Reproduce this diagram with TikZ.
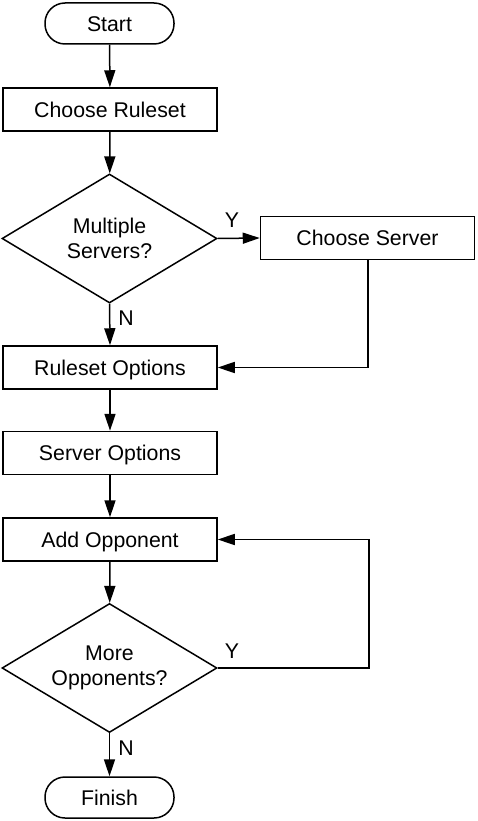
\documentclass[tikz,border=0pt]{standalone}
\usepackage{fontspec}
\setmainfont{Liberation Sans}
\usetikzlibrary{shapes.geometric,arrows.meta}
\begin{document}
\begin{tikzpicture}[x=1pt,y=-1pt,
  every node/.style={font=\fontsize{21.3}{25}\selectfont, line width=1.5pt},
  procbox/.style={draw, rectangle, minimum width=214pt, minimum height=43pt, inner sep=0pt, text height=15.3pt, text depth=0pt},
  termbox/.style={draw, rectangle, rounded corners=20pt, minimum width=129pt, minimum height=41pt, inner sep=0pt, text height=15.3pt, text depth=0pt},
  decbox/.style={draw, diamond, aspect=1.667, minimum width=215pt, minimum height=129pt, inner sep=0pt, align=center},
  flow/.style={line width=1.5pt, -{Triangle[length=17pt,width=11pt]}},
  lbl/.style={font=\fontsize{21.3}{25}\selectfont, inner sep=0pt}
]
\useasboundingbox (0,0) rectangle (477,821);
\node[termbox] (start) at (109.5,23.5) {Start};
\node[procbox] (rules) at (110,109.5) {Choose Ruleset};
\node[decbox] (multi) at (109.5,238.5) {Multiple\\Servers?};
\node[procbox] (server) at (367.5,238) {Choose Server};
\node[procbox] (ropts) at (110,367.5) {Ruleset Options};
\node[procbox] (sopts) at (110,453) {Server Options};
\node[procbox] (addop) at (110,539.5) {Add Opponent};
\node[decbox] (more) at (109.5,668) {More\\Opponents?};
\node[termbox] (finish) at (109.5,797.5) {Finish};

\coordinate (c1) at (368,367.5);
\coordinate (c2) at (369,668);
\coordinate (c3) at (369,539.5);

\draw[flow] (start) -- (rules);
\draw[flow] (rules) -- (multi);
\draw[flow] (multi.east) -- (server.west);
\draw[flow] (multi.south) -- (ropts.north);
\draw[flow] (server.south -| c1) -- (c1) -- (ropts.east);
\draw[flow] (ropts) -- (sopts);
\draw[flow] (sopts) -- (addop);
\draw[flow] (addop) -- (more);
\draw[flow] (more.east) -- (c2) -- (c3) -- (addop.east);
\draw[flow] (more.south) -- (finish.north);

\node[lbl] (y1) at (232,220) {Y};
\node[lbl] (n1) at (126,318) {N};
\node[lbl] (y2) at (232,651) {Y};
\node[lbl] (n2) at (126,748) {N};
\end{tikzpicture}
\end{document}
